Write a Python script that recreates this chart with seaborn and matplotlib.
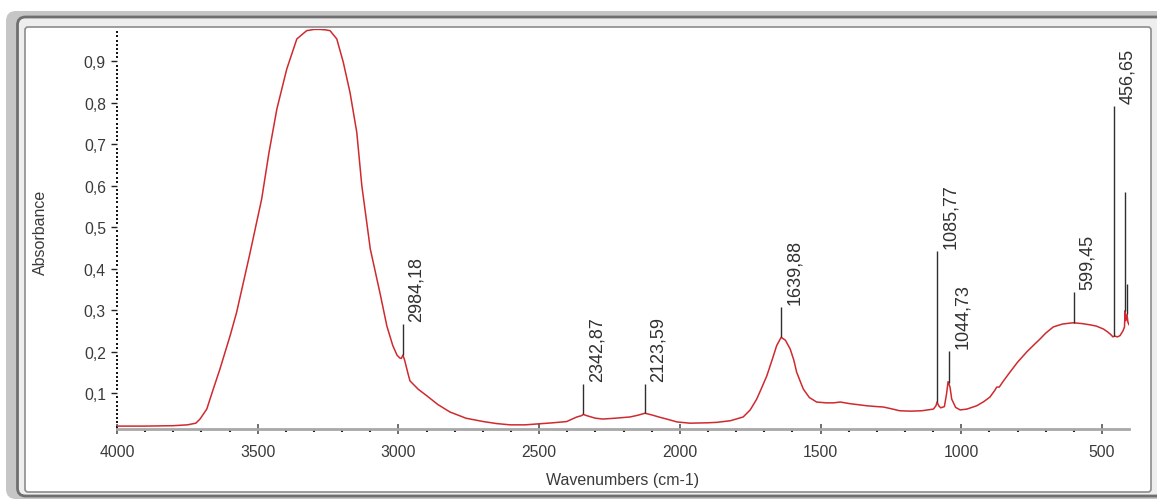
import numpy as np
import pandas as pd
import matplotlib
matplotlib.use("Agg")
import matplotlib.pyplot as plt
import seaborn as sns
from matplotlib.patches import FancyBboxPatch
from matplotlib.transforms import IdentityTransform
from matplotlib.ticker import FixedLocator, MultipleLocator

# FTIR absorbance spectrum
wavenumber = [
    4000, 3900, 3800, 3750, 3720, 3705, 3681, 3658, 3634, 3598, 3575, 3530,
    3486, 3460, 3432, 3397, 3361, 3326, 3300, 3279, 3260, 3243, 3219, 3196,
    3172, 3148, 3130, 3100, 3065, 3041, 3020, 3005, 2995, 2990, 2984, 2978,
    2965, 2959, 2930, 2899, 2860, 2817, 2760, 2699, 2650, 2603, 2550, 2508,
    2450, 2402, 2366, 2350, 2343, 2330, 2300, 2273, 2230, 2177, 2150, 2124,
    2100, 2075, 2047, 2010, 1964, 1900, 1869, 1820, 1775, 1750, 1727, 1710,
    1691, 1670, 1656, 1640, 1625, 1608, 1595, 1585, 1570, 1561, 1540, 1514,
    1480, 1454, 1430, 1395, 1360, 1336, 1300, 1277, 1250, 1219, 1180, 1140,
    1099, 1090, 1086, 1080, 1073, 1060, 1052, 1047, 1040, 1034, 1020, 1004,
    980, 945, 920, 898, 880, 874, 865, 850, 827, 800, 767, 740,
    720, 700, 673, 640, 603, 570, 542, 520, 495, 480, 471, 461,
    455, 445, 436, 425, 420, 418, 415, 411, 408, 404,
]
absorbance = [
    0.021, 0.021, 0.022, 0.024, 0.028, 0.038, 0.062, 0.110, 0.159, 0.239, 0.295, 0.430,
    0.568, 0.680, 0.785, 0.881, 0.954, 0.974, 0.977, 0.977, 0.976, 0.974, 0.954, 0.898,
    0.825, 0.729, 0.600, 0.448, 0.340, 0.262, 0.215, 0.192, 0.185, 0.184, 0.192, 0.180,
    0.145, 0.130, 0.110, 0.094, 0.073, 0.055, 0.040, 0.032, 0.027, 0.024, 0.024, 0.026,
    0.029, 0.032, 0.043, 0.046, 0.049, 0.046, 0.040, 0.038, 0.040, 0.043, 0.047, 0.052,
    0.048, 0.043, 0.038, 0.031, 0.028, 0.029, 0.030, 0.034, 0.043, 0.060, 0.086, 0.112,
    0.142, 0.185, 0.215, 0.235, 0.228, 0.207, 0.180, 0.151, 0.125, 0.110, 0.090, 0.079,
    0.077, 0.077, 0.079, 0.075, 0.072, 0.070, 0.068, 0.067, 0.063, 0.058, 0.057, 0.058,
    0.062, 0.070, 0.079, 0.070, 0.065, 0.068, 0.100, 0.128, 0.115, 0.086, 0.066, 0.060,
    0.062, 0.070, 0.080, 0.091, 0.108, 0.115, 0.115, 0.130, 0.151, 0.175, 0.200, 0.218,
    0.231, 0.245, 0.260, 0.267, 0.270, 0.268, 0.265, 0.262, 0.255, 0.248, 0.243, 0.236,
    0.238, 0.236, 0.239, 0.251, 0.260, 0.299, 0.275, 0.290, 0.272, 0.265,
]

# Peak picks: position, top of the marker line, and label
peak_positions = [2984.18, 2342.87, 2123.59, 1639.88, 1085.77, 1044.73, 599.45, 456.65]
peak_tops = [0.267, 0.122, 0.122, 0.308, 0.444, 0.203, 0.344, 0.792]
peak_labels = ["2984,18", "2342,87", "2123,59", "1639,88", "1085,77", "1044,73", "599,45", "456,65"]
edge_peak_positions = [418.0, 411.0]
edge_peak_tops = [0.584, 0.363]

x_ticks = [4000, 3500, 3000, 2500, 2000, 1500, 1000, 500]
x_tick_labels = ["4000", "3500", "3000", "2500", "2000", "1500", "1000", "500"]
y_ticks = [0.1, 0.2, 0.3, 0.4, 0.5, 0.6, 0.7, 0.8, 0.9]
y_tick_labels = ["0,1", "0,2", "0,3", "0,4", "0,5", "0,6", "0,7", "0,8", "0,9"]

sns.set_theme(style="white")
plt.rcParams["font.family"] = ["Liberation Sans", "DejaVu Sans"]

W, H = 1157, 502
fig = plt.figure(figsize=(W / 100, H / 100), dpi=100)
fig.patch.set_facecolor("white")


def panel(x0, y0, x1, y1, **kw):
    """Rounded box in pixel coordinates measured from the top-left corner."""
    return FancyBboxPatch((x0, H - y1), x1 - x0, y1 - y0,
                          transform=IdentityTransform(), zorder=-10, **kw)


# Window frame around the plot
fig.add_artist(panel(6, 12, 1175, 500, boxstyle="round,pad=0,rounding_size=10",
                     facecolor="#c6c6c6", edgecolor="none"))
fig.add_artist(panel(17.5, 18, 1175, 497, boxstyle="round,pad=0,rounding_size=8",
                     facecolor="#eeeeee", edgecolor="#6f6f6f", linewidth=2.0))
fig.add_artist(panel(25, 28, 1151, 493, boxstyle="round,pad=0,rounding_size=3",
                     facecolor="white", edgecolor="#8c8c8c", linewidth=1.2))

ax = fig.add_axes([117 / W, 1 - 430 / H, (1129 - 117) / W, (430 - 30) / H])
ax.set_facecolor("white")

df = pd.DataFrame({"wavenumber": wavenumber, "absorbance": absorbance})
sns.lineplot(data=df, x="wavenumber", y="absorbance", ax=ax,
             color="#cf2a2e", linewidth=1.1, estimator=None)

# Peak marker lines start on the spectrum
wn_asc = np.array(wavenumber[::-1], dtype=float)
ab_asc = np.array(absorbance[::-1], dtype=float)
peak_bottoms = np.interp(peak_positions, wn_asc, ab_asc)
ax.vlines(peak_positions, peak_bottoms, peak_tops, color="#2e2e2e", linewidth=1.0)
edge_bottoms = np.interp(edge_peak_positions, wn_asc, ab_asc)
ax.vlines(edge_peak_positions, edge_bottoms, edge_peak_tops, color="#2e2e2e", linewidth=1.0)

for pos, top, lab in zip(peak_positions, peak_tops, peak_labels):
    ax.annotate(lab, xy=(pos, top), xytext=(5, 3), textcoords="offset pixels",
                rotation=90, ha="left", va="bottom", fontsize=13, color="#303030")

ax.set_xlim(4000, 404)
ax.set_ylim(0.014, 0.978)

ax.xaxis.set_major_locator(FixedLocator(x_ticks))
ax.set_xticklabels(x_tick_labels)
ax.xaxis.set_minor_locator(MultipleLocator(100))
ax.yaxis.set_major_locator(FixedLocator(y_ticks))
ax.set_yticklabels(y_tick_labels)
ax.yaxis.set_minor_locator(MultipleLocator(0.01))

for side in ("top", "right", "left"):
    ax.spines[side].set_visible(False)
ax.spines["bottom"].set_color("#a8a8a8")
ax.spines["bottom"].set_linewidth(2.0)

ax.tick_params(axis="x", which="major", bottom=True, direction="inout", length=7,
               width=1.2, color="#555555", pad=7, labelsize=11.3, labelcolor="#3a3a3a")
ax.tick_params(axis="x", which="minor", bottom=True, direction="out", length=2.5,
               width=1.5, color="#222222")
ax.tick_params(axis="y", which="major", left=True, direction="out", length=4,
               width=1.0, color="#222222", pad=4, labelsize=11.3, labelcolor="#3a3a3a")
ax.tick_params(axis="y", which="minor", left=True, direction="inout", length=1.4,
               width=1.4, color="#111111")

ax.set_xlabel("")
ax.set_ylabel("")
fig.text(623 / W, 1 - 481 / H, "Wavenumbers (cm-1)", ha="center", va="center",
         fontsize=11.5, color="#3a3a3a")
fig.text(40 / W, 1 - 232 / H, "Absorbance", ha="center", va="center",
         rotation=90, fontsize=11.5, color="#3a3a3a")

fig.savefig("out.png", dpi=100, facecolor="white")
